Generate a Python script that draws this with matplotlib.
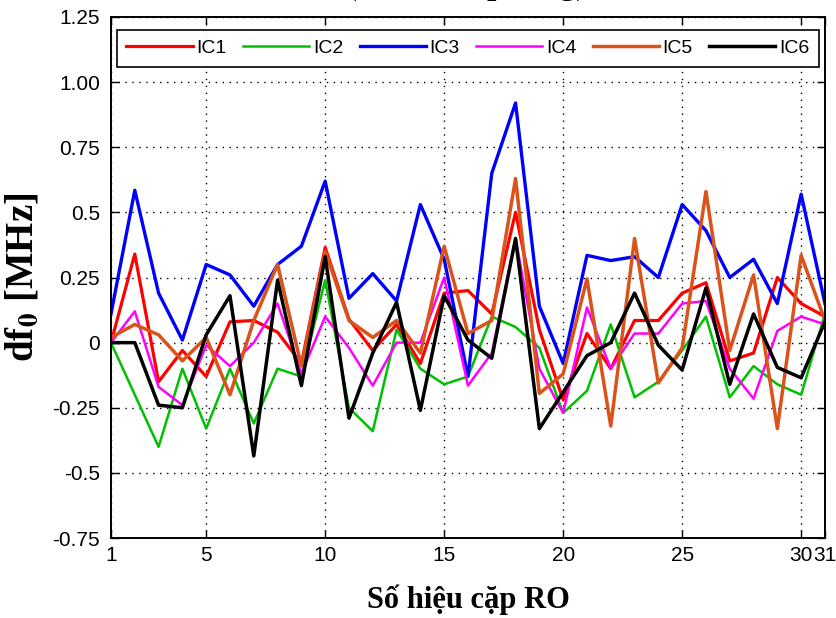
import matplotlib
matplotlib.use("Agg")
from matplotlib import pyplot as plt

plt.rcParams["mathtext.fontset"] = "stix"

# so hieu cap RO
x = list(range(1, 32))

ic1 = [0.0, 0.34, -0.15, -0.03, -0.13, 0.08, 0.085, 0.04, -0.08, 0.365, 0.09,
       -0.03, 0.07, -0.08, 0.19, 0.20, 0.11, 0.50, 0.05, -0.22, 0.035, -0.10,
       0.085, 0.085, 0.19, 0.23, -0.07, -0.04, 0.25, 0.15, 0.10]
ic2 = [0.0, -0.20, -0.40, -0.10, -0.33, -0.10, -0.31, -0.10, -0.13, 0.24, -0.25,
       -0.34, 0.05, -0.10, -0.16, -0.13, 0.10, 0.06, -0.02, -0.27, -0.185, 0.07,
       -0.21, -0.15, -0.03, 0.10, -0.21, -0.09, -0.16, -0.20, 0.11]
ic3 = [0.11, 0.585, 0.19, 0.01, 0.30, 0.26, 0.14, 0.30, 0.37, 0.62, 0.17,
       0.265, 0.16, 0.53, 0.32, -0.13, 0.65, 0.92, 0.14, -0.08, 0.335, 0.315,
       0.33, 0.25, 0.53, 0.43, 0.25, 0.32, 0.15, 0.57, 0.15]
ic4 = [0.0, 0.12, -0.17, -0.24, -0.01, -0.09, 0.0, 0.15, -0.12, 0.10, -0.02,
       -0.165, 0.0, 0.0, 0.25, -0.165, -0.04, 0.40, -0.10, -0.27, 0.135, -0.10,
       0.035, 0.035, 0.15, 0.16, -0.10, -0.215, 0.045, 0.10, 0.07]
ic5 = [0.02, 0.07, 0.03, -0.07, 0.02, -0.20, 0.085, 0.30, -0.09, 0.35, 0.085,
       0.02, 0.085, -0.04, 0.37, 0.035, 0.085, 0.63, -0.195, -0.12, 0.245, -0.32,
       0.40, -0.155, -0.02, 0.58, -0.03, 0.26, -0.33, 0.335, 0.085]
ic6 = [0.0, 0.0, -0.24, -0.25, 0.03, 0.18, -0.435, 0.24, -0.165, 0.33, -0.29,
       -0.04, 0.155, -0.26, 0.18, 0.01, -0.06, 0.40, -0.33, -0.19, -0.05, 0.0,
       0.19, -0.01, -0.105, 0.21, -0.16, 0.11, -0.095, -0.135, 0.08]

names = ["IC1", "IC2", "IC3", "IC4", "IC5", "IC6"]
colors = ["#ff0000", "#00c000", "#0000ff", "#ff00ff", "#d9531a", "#000000"]
widths = [2.3, 1.8, 2.4, 1.8, 2.5, 2.5]

xticks = [1, 5, 10, 15, 20, 25, 30, 31]
yticks = [-0.75, -0.5, -0.25, 0, 0.25, 0.5, 0.75, 1.0, 1.25]
ylabels = ["-0.75", "-0.5", "-0.25", "0", "0.25", "0.5", "0.75", "1.00", "1.25"]

tickfont = ["Liberation Sans", "DejaVu Sans"]

fig = plt.figure(figsize=(8.37, 6.18), dpi=100)
ax = fig.add_axes([0.1326, 0.1294, 0.8530, 0.8431])

for ys, name, c, w in zip([ic1, ic2, ic3, ic4, ic5, ic6], names, colors, widths):
    ax.plot(x, ys, color=c, linewidth=w, label=name)

ax.set_xlim(1, 31)
ax.set_ylim(-0.75, 1.25)
ax.set_xticks(xticks)
ax.set_xticklabels([str(t) for t in xticks], family=tickfont, fontsize=15)
ax.set_yticks(yticks)
ax.set_yticklabels(ylabels, family=tickfont, fontsize=15)
ax.tick_params(direction="in", length=6, width=1, top=True, right=True)
ax.tick_params(axis="x", pad=6)
ax.tick_params(axis="y", pad=8)
ax.grid(True, color="black", linestyle=(0, (1, 4)), linewidth=1)
for s in ax.spines.values():
    s.set_linewidth(1.4)

leg = ax.legend(loc="lower left", bbox_to_anchor=(0.008, 0.904, 0.984, 0.071),
                mode="expand", ncol=6, borderaxespad=0, fancybox=False,
                framealpha=1, edgecolor="black", handlelength=3.4,
                handletextpad=0.2, borderpad=0.5,
                prop={"family": tickfont, "size": 14})
leg.get_frame().set_linewidth(1.2)

ax.set_xlabel("Số hiệu cặp RO", family="Liberation Serif", fontweight="bold",
              fontsize=22, labelpad=14)
ax.set_ylabel(r"df$_{\mathbf{0}}$ [MHz]", family="Liberation Serif",
              fontweight="bold", fontsize=28, labelpad=8)

# tieu de phia tren, chi con thay phan duoi
fig.text(0.557, 1 + 6 / 618, "(Nhiệt độ phòng)", ha="center", va="baseline",
         family="Liberation Serif", fontweight="bold", fontsize=24)

fig.savefig("out.png", dpi=100)
